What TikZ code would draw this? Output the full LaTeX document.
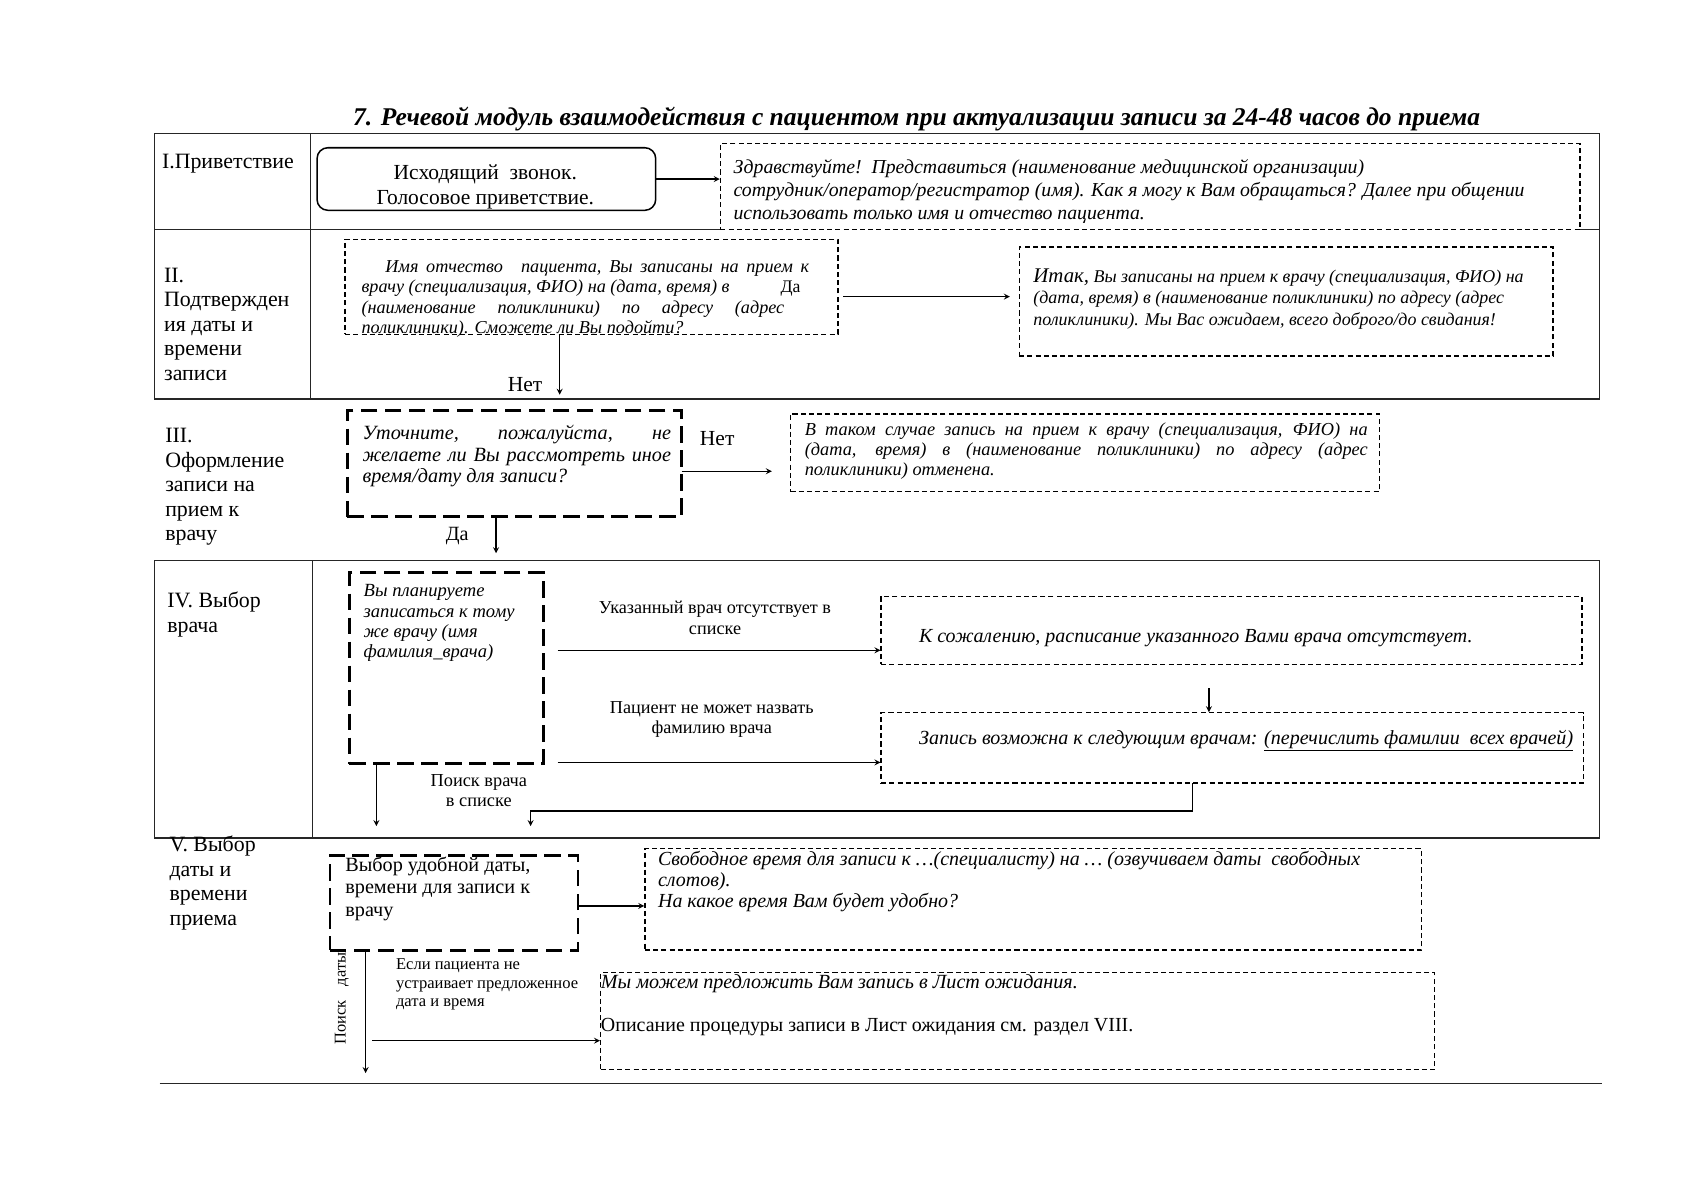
\documentclass[tikz,border=0pt]{standalone}
\usepackage{fontspec}
\setmainfont{Liberation Serif}
\usepackage{tikz}
\usetikzlibrary{positioning, fit, arrows}

\newcommand{\fsz}[2]{\fontsize{#1}{#2}\selectfont}

\begin{document}
\begin{tikzpicture}[x=0.3mm, y=-0.3mm, >=stealth,
    frame/.style={draw=black!85, line width=1pt},
    dbox/.style={draw, fill=white, dash pattern=on 4pt off 2.5pt, line width=1pt, inner sep=0pt},
    hbox/.style={draw, fill=white, dash pattern=on 13pt off 6pt, line width=2.2pt, inner sep=0pt},
    cbox/.style={draw, fill=white, rounded corners=3mm, line width=1.2pt, inner sep=0pt},
    arr/.style={->, line width=1.1pt},
    txt/.style={anchor=north west, inner sep=0pt, align=left},
    ctxt/.style={inner sep=0pt, align=center},
  ]
  \useasboundingbox (0,0) rectangle (1568,1113);

  % TITLE
  \node[ctxt, font=\fsz{20.2}{24}\bfseries\itshape] (title) at (850,110) {7. Речевой модуль взаимодействия с пациентом при актуализации записи за 24-48 часов до приема};

  % TABLE
  \draw[frame] (143,124) rectangle (1483,370);
  \draw[frame] (143,213) -- (1483,213);
  \draw[frame] (288,124) -- (288,370);
  \draw[frame] (143,520) rectangle (1483,777);
  \draw[frame] (290,520) -- (290,777);
  \draw[frame] (148,1005) -- (1485,1005);

  % I. Greeting
  \node[txt, font=\fsz{17.3}{19.4}] (stepI) at (150,143) {I.Приветствие};
  \node[cbox, fit={(294,137) (608,195)}] (call) {};
  \node[ctxt, font=\fsz{17}{19.6}] (callText) at (450,173) {Исходящий\ \ звонок.\\Голосовое приветствие.};
  \node[dbox, fit={(668,133) (1465,213)}] (hello) {};
  \node[txt, font=\fsz{15.65}{17.9}\itshape] (helloText) at (680,148) {Здравствуйте!\ \ Представиться (наименование медицинской организации)\\сотрудник/оператор/регистратор (имя). Как я могу к Вам обращаться? Далее при общении\\использовать только имя и отчество пациента.};
  \draw[arr] (call.east) -- (call.east -| hello.west);

  % II. Confirmation
  \node[txt, font=\fsz{17.3}{19.4}] (stepII) at (152,248) {II.\\Подтвержден\\ия даты и\\времени\\записи};
  \node[dbox, fit={(320,222) (777,310)}] (confirm) {};
  \node[txt, text width=124.5mm, align=justify, font=\fsz{14.4}{16.2}\itshape] (confirmText) at (335,241) {\hspace*{6.6mm}Имя отчество\quad пациента,\ Вы записаны\ на прием к\linebreak врачу (специализация, ФИО) на (дата, время) в\\\makebox[117.6mm][s]{(наименование поликлиники) по адресу (адрес}\\поликлиники). Сможете ли Вы подойти?};
  \node[ctxt, font=\fsz{14}{16}] (daII) at (733,268) {Да};
  \node[dbox, fit={(945,229) (1440,330)}] (thanks) {};
  \node[txt, font=\fsz{14.2}{17}\itshape] (thanksText) at (958,249) {{\fsz{16.5}{17}Итак,} Вы записаны на прием к врачу (специализация, ФИО) на\\(дата, время) в (наименование поликлиники) по адресу (адрес\\поликлиники). Мы Вас ожидаем, всего доброго/до свидания!};
  \coordinate (daOut) at (782,275);
  \draw[arr, shorten >=2.4mm] (daOut) -- (daOut -| thanks.west);
  \coordinate (netII) at (519,366);
  \draw[arr] (confirm.south -| netII) -- (netII);
  \node[anchor=east, font=\fsz{17}{19}] (netIIText) at (507,357) {Нет};

  % III. Booking
  \node[txt, font=\fsz{17.3}{19.4}] (stepIII) at (153,397) {III.\\Оформление\\записи на\\прием к\\врачу};
  \node[hbox, fit={(322,381) (632,479)}] (retry) {};
  \node[txt, text width=85.8mm, align=justify, font=\fsz{16}{17}\itshape] (retryText) at (336,394) {Уточните, пожалуйста, не\linebreak желаете ли Вы рассмотреть иное\linebreak время/дату для записи?};
  \node[font=\fsz{17}{19}] (netIII) at (665,407) {Нет};
  \node[dbox, fit={(733,384) (1279,456)}] (cancel) {};
  \node[txt, text width=156.6mm, align=justify, font=\fsz{14.5}{15.8}\itshape] (cancelText) at (746,392) {В таком случае запись на прием к врачу (специализация, ФИО) на\linebreak (дата, время) в (наименование поликлиники) по адресу (адрес\linebreak поликлиники) отменена.};
  \coordinate (netOut) at (632,437);
  \draw[arr, shorten >=5mm] (netOut) -- (netOut -| cancel.west);
  \coordinate (daIII) at (460,513);
  \draw[arr] (retry.south -| daIII) -- (daIII);
  \node[font=\fsz{16}{18}] (daIIIText) at (424,497) {Да};

  % IV. Doctor
  \node[txt, font=\fsz{17.3}{19.4}] (stepIV) at (155,549) {IV. Выбор\\врача};
  \node[hbox, fit={(324,531) (504,708)}] (same) {};
  \node[txt, font=\fsz{14.7}{16}\itshape] (sameText) at (337,542) {Вы планируете\\записаться к тому\\же врачу (имя\\фамилия\_врача)};
  \node[ctxt, font=\fsz{14.4}{16.2}] (absentText) at (663,573) {Указанный врач отсутствует в\\списке};
  \node[dbox, fit={(817,553) (1467,616)}] (sorry) {};
  \node[txt, font=\fsz{15.8}{19}\itshape] (sorryText) at (852,583) {К сожалению, расписание указанного Вами врача отсутствует.};
  \coordinate (absentOut) at (517,603);
  \draw[arr] (absentOut) -- (absentOut -| sorry.west);
  \node[ctxt, font=\fsz{14.4}{16.2}] (unknownText) at (660,667) {Пациент не может назвать\\фамилию врача};
  \node[dbox, fit={(817,661) (1468,726)}] (avail) {};
  \node[txt, font=\fsz{15.85}{19}\itshape] (availText) at (852,677) {Запись возможна к следующим врачам: \underline{(перечислить фамилии\ \ всех врачей)}};
  \coordinate (unknownOut) at (517,707);
  \draw[arr] (unknownOut) -- (unknownOut -| avail.west);
  \coordinate (sorryDown) at (1121,638);
  \draw[arr] (sorryDown) -- (sorryDown |- avail.north);
  \coordinate (availOut) at (1106,726);
  \coordinate (searchIn) at (492,766);
  \draw[arr] (availOut) -- ++(0,26) -| (searchIn);
  \coordinate (pickIn) at (349,766);
  \draw[arr] (same.south -| pickIn) -- (pickIn);
  \node[ctxt, font=\fsz{14.5}{16.2}] (searchText) at (444,733) {Поиск врача\\в списке};

  % V. Date and time
  \node[txt, font=\fsz{17.3}{19.4}] (stepV) at (157,775) {V. Выбор\\даты и\\времени\\приема};
  \node[hbox, fit={(306,793) (536,881)}] (pick) {};
  \node[txt, font=\fsz{16}{17.9}] (pickText) at (320,794) {Выбор удобной даты,\\времени для записи к\\врачу};
  \node[dbox, fit={(598,787) (1318,881)}] (slots) {};
  \node[txt, font=\fsz{15.8}{16.6}\itshape] (slotsText) at (610,789) {Свободное время для записи к …(специалисту) на … (озвучиваем даты\ \ свободных\\слотов).\\На какое время Вам будет удобно?};
  \coordinate (pickOut) at (536,840);
  \draw[arr] (pickOut) -- (pickOut -| slots.west);
  \coordinate (pickDown) at (339,995);
  \draw[arr] (pick.south -| pickDown) -- (pickDown);
  \node[rotate=90, font=\fsz{13}{15}] (searchDate) at (317,926) {Поиск\hspace{4mm}даты};
  \node[txt, font=\fsz{13.1}{14.5}] (refuseText) at (367,889) {Если пациента не\\устраивает предложенное\\дата и время};
  \node[dbox, fit={(557,902) (1330,992)}] (wait) {};
  \node[txt, font=\fsz{15.9}{19}\itshape] (waitText) at (557,903) {Мы можем предложить Вам запись в Лист ожидания.};
  \node[txt, font=\fsz{15.8}{19}] (waitRef) at (557,944) {Описание процедуры записи в Лист ожидания см. раздел VIII.};
  \coordinate (refuseOut) at (345,965);
  \draw[arr] (refuseOut) -- (refuseOut -| wait.west);
\end{tikzpicture}
\end{document}
